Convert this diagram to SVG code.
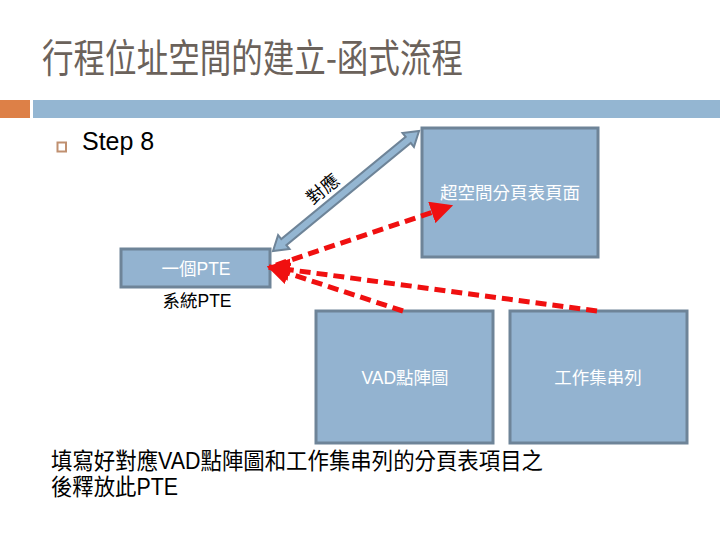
<svg xmlns="http://www.w3.org/2000/svg" width="720" height="540" viewBox="0 0 720 540">
<defs>
<style>
.box{fill:#93b3d0;stroke:#6e8498;stroke-width:3}
.wt{fill:#ffffff;font-family:"Liberation Sans","Noto Sans CJK TC",sans-serif;font-size:17.5px;text-anchor:middle}
.bk{fill:#000000;font-family:"Liberation Sans","Noto Sans CJK TC",sans-serif}
.red{fill:none;stroke:#f01010;stroke-width:5;stroke-dasharray:11 6}
</style>
<marker id="rh" viewBox="0 0 10 10" refX="9" refY="5" markerWidth="4.5" markerHeight="4.5" orient="auto" markerUnits="strokeWidth">
<path d="M0,0 L10,5 L0,10 z" fill="#f01010"/>
</marker>
</defs>
<rect width="720" height="540" fill="#ffffff"/>
<text x="42" y="72" font-family="'Noto Sans CJK TC','Liberation Sans',sans-serif" font-size="39" fill="#6b625b" textLength="421" lengthAdjust="spacingAndGlyphs">行程位址空間的建立-函式流程</text>
<rect x="0" y="100" width="30" height="18" fill="#dd8047"/>
<rect x="33" y="100" width="687" height="18" fill="#94b6d2"/>
<rect x="57.5" y="142.5" width="8.5" height="9" fill="none" stroke="#c09070" stroke-width="2"/>
<text class="bk" x="82" y="150" font-size="25">Step 8</text>
<g id="hyper">
<rect class="box" x="422" y="128" width="176" height="129"/>
<text class="wt" x="510" y="199">超空間分頁表頁面</text>
</g>
<g id="pte">
<rect class="box" x="121" y="249" width="149" height="38"/>
<text class="wt" x="196" y="275">一個PTE</text>
<text class="bk" x="197" y="307" font-size="17.5" text-anchor="middle">系統PTE</text>
</g>
<g id="vad">
<rect class="box" x="316" y="311" width="177" height="132"/>
<text class="wt" x="405" y="384">VAD點陣圖</text>
</g>
<g id="ws">
<rect class="box" x="510" y="311" width="177" height="132"/>
<text class="wt" x="598" y="384">工作集串列</text>
</g>
<g id="connectors">
<g transform="translate(273,251) rotate(-39.4)">
<polygon points="0,0 14,-9 14,-4 175,-4 175,-9 189,0 175,9 175,4 14,4 14,9" fill="#94b6d2" stroke="#6e8498" stroke-width="2" stroke-linejoin="miter"/>
</g>
<text class="bk" x="0" y="0" font-size="18" text-anchor="middle" transform="translate(327,194) rotate(-39.4)">對應</text>
<line class="red" x1="276" y1="265" x2="451" y2="206" marker-end="url(#rh)"/>
<line class="red" x1="403" y1="311" x2="269" y2="267" marker-end="url(#rh)"/>
<line class="red" x1="597" y1="311" x2="269" y2="267" marker-end="url(#rh)"/>
</g>
<text class="bk" x="51" y="469" font-size="23" textLength="492" lengthAdjust="spacingAndGlyphs">填寫好對應VAD點陣圖和工作集串列的分頁表項目之</text>
<text class="bk" x="51" y="495" font-size="23" textLength="127" lengthAdjust="spacingAndGlyphs">後釋放此PTE</text>
</svg>
